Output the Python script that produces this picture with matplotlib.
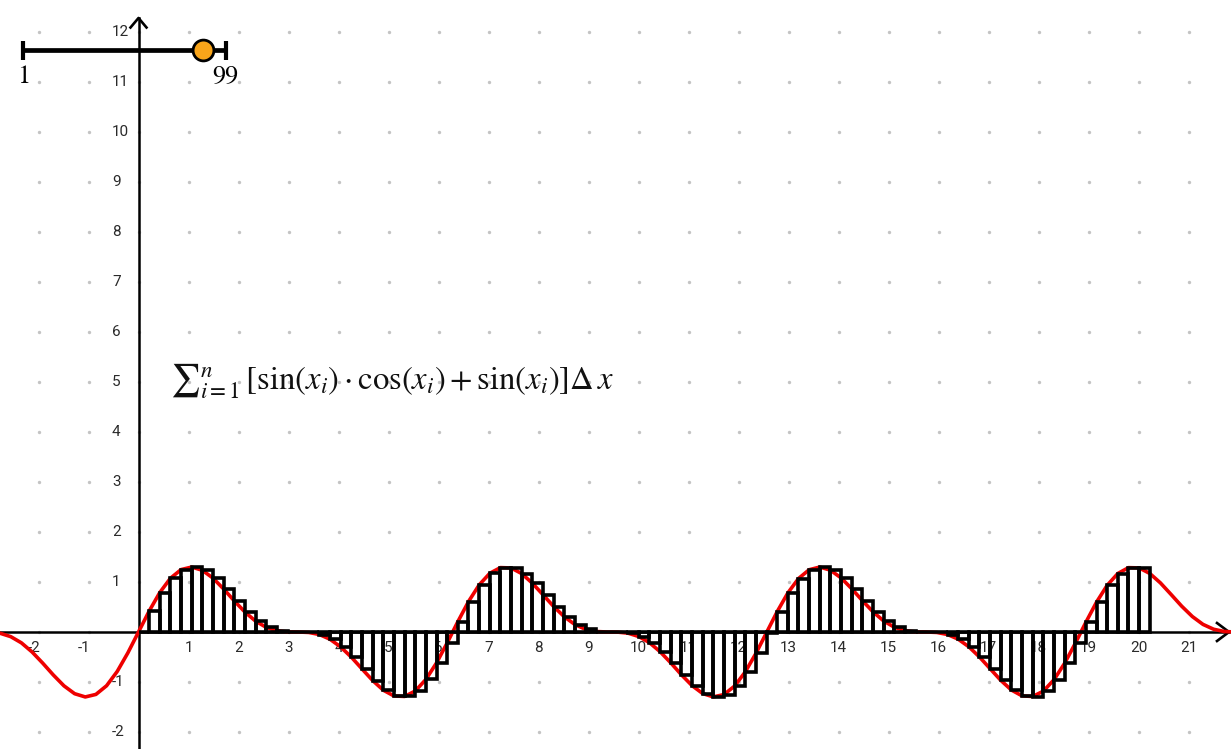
import matplotlib.pyplot as plt
import numpy as np

# Left Riemann sum of f(x) = sin(x)cos(x) + sin(x), GeoGebra style graphics view

# values
dx = 0.2129          # width of one rectangle
k_first = -14        # first curve sample sits at k_first*dx

# curve samples left of the y axis (x = -14dx ... -dx)
curve_left = [-0.002, -0.025, -0.093, -0.217, -0.399, -0.622, -0.860, -1.077,
              -1.234, -1.299, -1.248, -1.075, -0.789, -0.418]

# rectangle heights (left end points), also the curve samples under the bars
bar_heights = [0.0, 0.418, 0.789, 1.075, 1.248, 1.299, 1.234, 1.077, 0.860, 0.622,
               0.399, 0.217, 0.093, 0.025, 0.002, 0.0, -0.009, -0.051, -0.146, -0.300,
               -0.504, -0.739, -0.971, -1.164, -1.279, -1.289, -1.179, -0.948, -0.617, -0.217,
               0.207, 0.608, 0.941, 1.174, 1.288, 1.281, 1.168, 0.976, 0.745, 0.510,
               0.305, 0.149, 0.053, 0.010, 0.0, -0.002, -0.024, -0.091, -0.213, -0.394,
               -0.616, -0.855, -1.072, -1.231, -1.298, -1.251, -1.081, -0.798, -0.428, -0.011,
               0.408, 0.781, 1.069, 1.245, 1.299, 1.237, 1.082, 0.866, 0.628, 0.404,
               0.221, 0.096, 0.026, 0.002, 0.0, -0.009, -0.050, -0.143, -0.295, -0.499,
               -0.733, -0.966, -1.160, -1.277, -1.290, -1.183, -0.955, -0.626, -0.228, 0.196,
               0.598, 0.934, 1.170, 1.287, 1.282]

# curve samples right of the last rectangle
curve_right = [1.171, 0.982, 0.751, 0.516, 0.309, 0.152, 0.055, 0.010, 0.0]

x_labels = [-2, -1] + list(range(1, 22))
y_labels = [-2, -1] + list(range(1, 13))

slider_min = 1
slider_max = 99
slider_value = 88

formula = r'${\sum}_{i=1}^{n}\,[\sin(x_i)\cdot\cos(x_i)+\sin(x_i)]\Delta\,x$'

#Figure setup
W, H = 1231, 749
fig = plt.figure(figsize=(W / 100, H / 100), dpi=100)
ax = fig.add_axes([0, 0, 1, 1])
x0_px, y0_px, unit = 138.5, 632, 50.0   # origin in pixels, pixels per unit
ax.set_xlim(-x0_px / unit, (W - x0_px) / unit)
ax.set_ylim(-(H - y0_px) / unit, y0_px / unit)
ax.axis('off')
plt.rcParams['mathtext.fontset'] = 'stix'

#dot grid at integer points
gx, gy = np.meshgrid(np.arange(-2, 22), np.arange(-2, 13))
ax.scatter(gx.ravel(), gy.ravel(), s=6, color='#c4c4c4', linewidths=0, zorder=1)

#axes with open arrow heads
xmin, xmax = ax.get_xlim()
ymin, ymax = ax.get_ylim()
x_tip = xmax - 0.04
y_tip = ymax - 0.36
ax.plot([xmin, x_tip], [0, 0], color='black', lw=1.8, zorder=2)
ax.plot([0, 0], [ymin, y_tip], color='black', lw=1.8, zorder=2)
ax.plot([x_tip - 0.24, x_tip, x_tip - 0.24], [0.18, 0, -0.18], color='black', lw=1.9, zorder=2)
ax.plot([-0.16, 0, 0.16], [y_tip - 0.19, y_tip, y_tip - 0.19], color='black', lw=1.9, zorder=2)

for v in x_labels:
    shift = -0.08 if v < 0 else 0.0
    ax.text(v + shift, -0.31, str(v), ha='center', va='center', fontsize=11,
            family='Roboto', color='#2a2a2a', zorder=2)
for v in y_labels:
    ax.text(-0.53, v, str(v), ha='left', va='center', fontsize=11,
            family='Roboto', color='#2a2a2a', zorder=2)

#function curve
curve_y = curve_left + bar_heights + curve_right
curve_x = dx * np.arange(k_first, k_first + len(curve_y))
ax.plot(curve_x, curve_y, color='#ee0000', lw=2.6, solid_capstyle='round', zorder=3)

#rectangles
bar_x = dx * np.arange(len(bar_heights))
ax.bar(bar_x, bar_heights, width=dx, align='edge', fill=False,
       edgecolor='black', linewidth=2.6, zorder=4)

#formula text
ax.text(0.63, 4.87, formula, ha='left', va='baseline', fontsize=23.5, color='#111111', zorder=5)

#slider for n
sx0, sx1, sy = -2.304, 1.744, 11.64
ax.plot([sx0, sx1], [sy, sy], color='black', lw=3.4, solid_capstyle='butt', zorder=5)
for sx in (sx0, sx1):
    ax.plot([sx, sx], [sy - 0.19, sy + 0.19], color='black', lw=3.0, solid_capstyle='butt', zorder=5)
knob_x = sx0 + (slider_value - slider_min) / (slider_max - slider_min) * (sx1 - sx0)
ax.plot(knob_x, sy, 'o', ms=15, mfc='#f9a51a', mec='black', mew=2.0, zorder=6)
ax.text(sx0, 11.1, str(slider_min), ha='center', va='center', fontsize=19,
        family='STIXGeneral', color='black')
ax.text(sx1, 11.1, str(slider_max), ha='center', va='center', fontsize=19,
        family='STIXGeneral', color='black')

fig.savefig('out.png', dpi=100)
